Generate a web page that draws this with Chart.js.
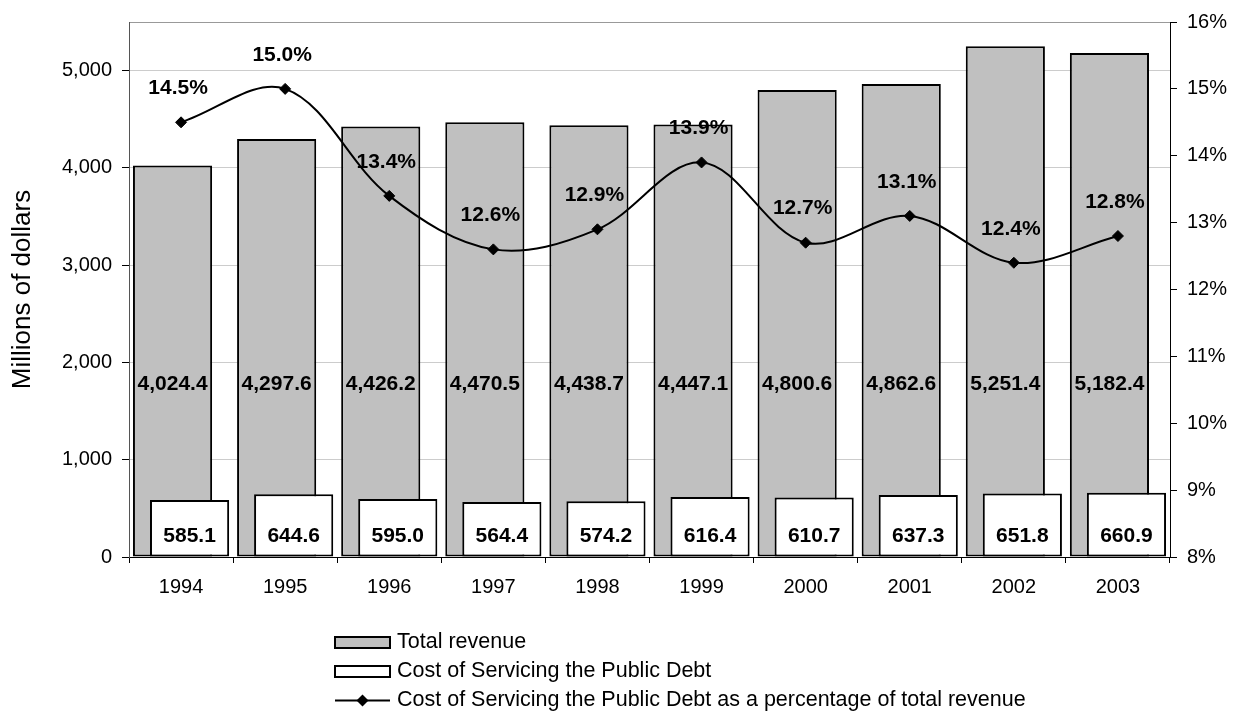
<!DOCTYPE html>
<html lang="en">
<head>
  <meta charset="UTF-8">
  <title>Total revenue and cost of servicing the public debt</title>
  <script src="https://cdn.jsdelivr.net/npm/chart.js"></script>
  <style>
    body { margin: 0; background: #fff; }
    #wrap { position: relative; width: 1236px; height: 713px; }
  </style>
</head>
<body>
  <div id="wrap"><canvas id="revenueChart"></canvas></div>
  <script>
    const years = ['1994', '1995', '1996', '1997', '1998', '1999', '2000', '2001', '2002', '2003'];
    const totalRevenue = [4024.4, 4297.6, 4426.2, 4470.5, 4438.7, 4447.1, 4800.6, 4862.6, 5251.4, 5182.4];
    const debtCost = [585.1, 644.6, 595.0, 564.4, 574.2, 616.4, 610.7, 637.3, 651.8, 660.9];
    const debtShare = [14.5, 15.0, 13.4, 12.6, 12.9, 13.9, 12.7, 13.1, 12.4, 12.8];
    const revenueTicks = [0, 1000, 2000, 3000, 4000, 5000];
    const revenueMax = 5500;
    const shareMin = 8;
    const shareMax = 16;

    const fontFamily = "'Liberation Sans', Arial, sans-serif";
    Chart.defaults.font.family = fontFamily;
    Chart.defaults.color = '#000';

    const fmt = v => v.toLocaleString('en-US', { minimumFractionDigits: 1, maximumFractionDigits: 1 });

    // grey bar is placed left of the white one, but has to be painted under it
    const barOrder = {
      id: 'barOrder',
      beforeDatasetsDraw(chart) {
        chart.getDatasetMeta(0).controller.draw();
      },
      beforeDatasetDraw(chart, args) {
        if (args.index === 0) return false;
      }
    };

    const valueLabels = {
      id: 'valueLabels',
      afterDatasetsDraw(chart) {
        const { ctx, chartArea } = chart;
        ctx.save();
        ctx.fillStyle = '#000';
        ctx.font = 'bold 21px ' + fontFamily;
        ctx.textAlign = 'center';
        ctx.textBaseline = 'middle';
        chart.getDatasetMeta(0).data.forEach((bar, i) => {
          ctx.fillText(fmt(totalRevenue[i]), bar.x, chartArea.bottom - 173);
        });
        chart.getDatasetMeta(1).data.forEach((bar, i) => {
          ctx.fillText(fmt(debtCost[i]), bar.x, chartArea.bottom - 21);
        });
        chart.getDatasetMeta(2).data.forEach((pt, i) => {
          ctx.fillText(debtShare[i].toFixed(1) + '%', pt.x - 3, pt.y - 34);
        });
        ctx.restore();
      }
    };

    // one legend entry per row, under the axis
    const legendRows = {
      id: 'legendRows',
      afterDraw(chart) {
        const { ctx, chartArea } = chart;
        const x = 335, w = 55;
        ctx.save();
        ctx.font = '21.5px ' + fontFamily;
        ctx.textAlign = 'left';
        ctx.textBaseline = 'alphabetic';
        chart.data.datasets.forEach((ds, i) => {
          const y = chartArea.bottom + 85.5 + i * 29;
          ctx.strokeStyle = '#000';
          if (ds.type === 'line') {
            ctx.lineWidth = 2;
            ctx.beginPath();
            ctx.moveTo(x, y);
            ctx.lineTo(x + w, y);
            ctx.stroke();
            const cx = x + w / 2, r = 6;
            ctx.fillStyle = '#000';
            ctx.beginPath();
            ctx.moveTo(cx - r, y);
            ctx.lineTo(cx, y - r);
            ctx.lineTo(cx + r, y);
            ctx.lineTo(cx, y + r);
            ctx.closePath();
            ctx.fill();
          } else {
            ctx.lineWidth = 2;
            ctx.fillStyle = ds.backgroundColor;
            ctx.fillRect(x, y - 5.5, w, 11);
            ctx.strokeRect(x, y - 5.5, w, 11);
          }
          ctx.fillStyle = '#000';
          ctx.fillText(ds.label, x + w + 7, y + 5);
        });
        ctx.restore();
      }
    };

    new Chart(document.getElementById('revenueChart'), {
      type: 'bar',
      data: {
        labels: years,
        datasets: [
          {
            type: 'bar',
            label: 'Total revenue',
            data: totalRevenue,
            yAxisID: 'y',
            backgroundColor: '#c0c0c0',
            borderColor: '#000',
            borderWidth: 2,
            borderSkipped: false,
            categoryPercentage: 0.327,
            barPercentage: 4.65,
            order: 1
          },
          {
            type: 'bar',
            label: 'Cost of Servicing the Public Debt',
            data: debtCost,
            yAxisID: 'y',
            backgroundColor: '#ffffff',
            borderColor: '#000',
            borderWidth: 2,
            borderSkipped: false,
            categoryPercentage: 0.327,
            barPercentage: 4.65,
            order: 2
          },
          {
            type: 'line',
            label: 'Cost of Servicing the Public Debt as a percentage of total revenue',
            data: debtShare,
            yAxisID: 'y1',
            borderColor: '#000',
            borderWidth: 2,
            tension: 0.35,
            pointStyle: 'rectRot',
            pointRadius: 5.5,
            pointBorderWidth: 1,
            pointBackgroundColor: '#000',
            pointBorderColor: '#000',
            order: 0
          }
        ]
      },
      options: {
        responsive: true,
        maintainAspectRatio: false,
        animation: false,
        layout: { padding: { top: 21, left: 0, right: 0, bottom: 0 } },
        plugins: {
          legend: { display: false },
          tooltip: { enabled: false }
        },
        scales: {
          x: {
            grid: { offset: true, drawOnChartArea: false, tickLength: 6, tickColor: '#000' },
            border: { color: '#000', width: 1 },
            ticks: { font: { size: 20 }, color: '#000', padding: 12 },
            afterFit: s => { s.height = 156; }
          },
          y: {
            position: 'left',
            min: 0,
            max: revenueMax,
            afterBuildTicks: s => {
              s.ticks = revenueTicks.concat([revenueMax]).map(value => ({ value }));
            },
            ticks: {
              font: { size: 20 },
              color: '#000',
              padding: 10,
              callback: v => (v === revenueMax ? '' : v.toLocaleString('en-US'))
            },
            grid: {
              color: c => (c.tick.value === revenueMax ? '#999' : c.tick.value === 0 ? '#000' : '#cccccc'),
              tickLength: 7,
              tickColor: c => (c.tick && c.tick.value === revenueMax ? 'rgba(0,0,0,0)' : '#000')
            },
            border: { color: '#555', width: 1 },
            title: {
              display: true,
              text: 'Millions of dollars',
              font: { size: 26 },
              color: '#000',
              padding: { top: 7, bottom: 0 }
            },
            afterFit: s => { s.width = 129; }
          },
          y1: {
            position: 'right',
            min: shareMin,
            max: shareMax,
            ticks: {
              stepSize: 1,
              font: { size: 20 },
              color: '#000',
              padding: 10,
              callback: v => v + '%'
            },
            grid: { drawOnChartArea: false, tickLength: 7, tickColor: '#000' },
            border: { color: '#000', width: 1 },
            afterFit: s => { s.width = 66; }
          }
        }
      },
      plugins: [barOrder, valueLabels, legendRows]
    });
  </script>
</body>
</html>
